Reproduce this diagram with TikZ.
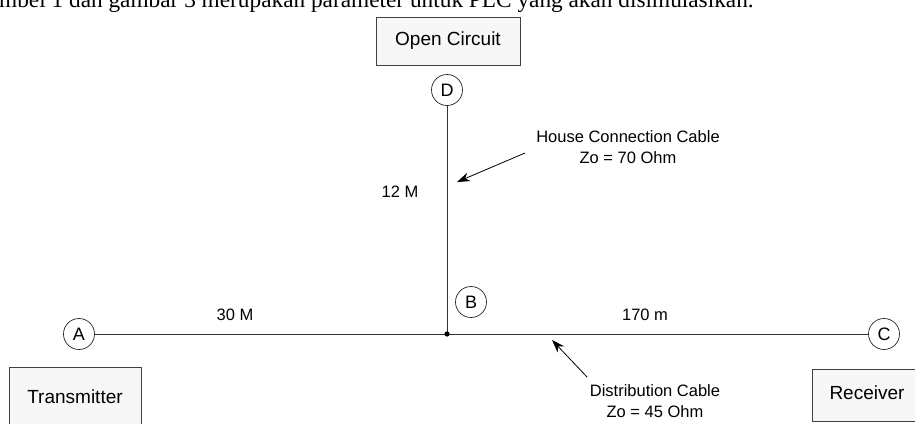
\documentclass[tikz,border=0pt]{standalone}
\usepackage{fontspec}
\setmainfont{Liberation Sans}
\newfontfamily\serifx{Liberation Serif}
\usetikzlibrary{arrows.meta}
\begin{document}
\begin{tikzpicture}[x=1pt,y=-1pt,
  lbl/.style={font=\fontsize{16.5}{21}\selectfont, inner sep=0pt, align=center},
  boxlbl/.style={draw=black!75, fill=black!3, line width=0.8pt, inner sep=0pt, font=\fontsize{19}{22}\selectfont},
  pt/.style={circle, draw=black!85, line width=0.7pt, minimum size=31pt, inner sep=0pt, font=\fontsize{18}{20}\selectfont},
  wire/.style={draw=black!80, line width=0.9pt},
  ptr/.style={draw=black, line width=0.8pt, -{Stealth[length=13pt,width=9pt]}}]
\useasboundingbox (0,0) rectangle (915,423);
% caption line (cut off at top)
\node[anchor=base west, inner sep=0pt, font=\serifx\fontsize{23.3}{26}\selectfont] (cap) at (-1,7) {mbel 1 dan gambar 3 merupakan parameter untuk PLC yang akan disimulasikan.};
% boxes
\node[boxlbl, minimum width=144pt, minimum height=48pt] (oc) at (448,41) {Open Circuit};
\node[boxlbl, minimum width=132pt, minimum height=64pt] (tx) at (75,399) {};
\node[font=\fontsize{19}{22}\selectfont, inner sep=0pt] (txl) at (75,397) {Transmitter};
\node[boxlbl, minimum width=108pt, minimum height=52pt] (rx) at (866,395) {};
\node[font=\fontsize{19}{22}\selectfont, inner sep=0pt] (rxl) at (867,393) {Receiver};
% points
\node[pt] (A) at (79,334) {A};
\node[pt] (B) at (471,302) {B};
\node[pt] (C) at (884,334) {C};
\node[pt] (D) at (447,90) {D};
\coordinate (J) at (447,334);
% wires
\draw[wire] (A) -- (C);
\draw[wire] (D) -- (J);
\fill[black] (J) circle (2.6pt);
% lengths
\node[lbl] (l30) at (235,315) {30 M};
\node[lbl] (l170) at (645,315) {170 m};
\node[lbl] (l12) at (400,192) {12 M};
% cable labels
\node[lbl] (hcc) at (628,147) {House Connection Cable\\Zo = 70 Ohm};
\node[lbl] (dc) at (655,401) {Distribution Cable\\Zo = 45 Ohm};
\coordinate (h1) at (525,153);
\coordinate (h2) at (457,182);
\coordinate (d1) at (587,377);
\coordinate (d2) at (552,340);
\draw[ptr] (h1) -- (h2);
\draw[ptr] (d1) -- (d2);
\end{tikzpicture}
\end{document}
